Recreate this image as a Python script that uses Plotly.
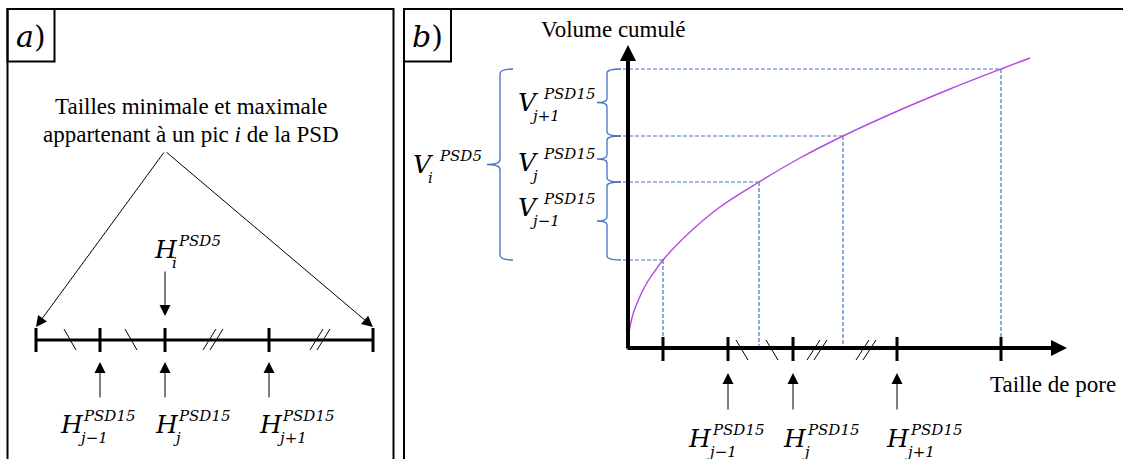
import plotly.graph_objects as go

FIG_W, FIG_H = 1123, 459
BLUE = "#4472C4"
PURPLE = "#B04AE4"
MATH_FONT = "DejaVu Serif"
TEXT_FONT = "Liberation Serif"

# ---------------- frames ----------------
frame_a = [7.5, 9, 393.5, 480]
frame_b = [404, 9, 1140, 480]
tag_a = [7.5, 9, 54.5, 61.5]
tag_b = [404, 9, 451, 61.5]

# ---------------- panel a ----------------
a_axis_x = [36, 373]
a_axis_y = 340
a_tick_x = [36, 100, 165, 269, 373]
a_break_x = [70, 131, 213, 320]
a_break_kind = ["single", "single", "double", "double"]
a_apex = [165, 151]
a_ends_x = [36, 373]
a_ends_y = 327
a_peak_x = 165
a_up_x = [100, 165, 269]
a_sub = ["j−1", "j", "j+1"]
a_H_left = [59, 154, 258]
a_H_y = 424

# ---------------- panel b ----------------
b_origin = [628, 348]
b_y_top = 45
b_x_right = 1067
b_tick_x = [663, 728, 793, 897, 1001]
b_break_x = [742, 772, 817, 866]
b_break_kind = ["single", "single", "double", "double"]
curve_x = [628, 629, 631, 634, 638, 642, 648, 655, 663, 690, 720, 759, 800, 843, 900, 950, 1001, 1030]
curve_y = [348, 333, 322, 311, 301, 292, 281, 271, 260, 232, 207, 182, 158, 136, 110, 89, 69, 58]
level_x = [663, 759, 843, 1001]
level_y = [260, 182, 136, 69]
b_up_x = [728, 793, 897]
b_sub = ["j−1", "j", "j+1"]
b_H_left = [687, 782, 885]
b_H_y = 438
brace_ranges = [[69, 136], [136, 182], [182, 260]]
brace_sub = ["j+1", "j", "j−1"]
brace_label_y = [102, 162, 207]
big_brace = [69, 260]

fig = go.Figure()
shapes = []
ann = []


def seg_trace(xs, ys, color="black", width=1.0, dash=None, shape="linear"):
    fig.add_trace(go.Scatter(x=xs, y=ys, mode="lines", hoverinfo="skip",
                             line=dict(color=color, width=width, dash=dash, shape=shape),
                             showlegend=False))


def arrow(x0, y0, x1, y1, width=1.0, size=2.0, color="black"):
    ann.append(dict(x=x1, y=y1, ax=x0, ay=y0, xref="x", yref="y", axref="x", ayref="y",
                    text="", showarrow=True, arrowhead=2, arrowwidth=width,
                    arrowsize=size, arrowcolor=color))


def text(x, y, s, size, font=TEXT_FONT, xanchor="center", color="black"):
    ann.append(dict(x=x, y=y, xref="x", yref="y", text=s, showarrow=False,
                    xanchor=xanchor, yanchor="middle", borderpad=0,
                    font=dict(family=font, size=size, color=color)))


def math_label(xl, yc, base, sup, sub, sup_dx, sub_dx):
    text(xl, yc, "<i>%s</i>" % base, 25, MATH_FONT, "left")
    text(xl + sup_dx, yc - 8, "<i>%s</i>" % sup, 15, MATH_FONT, "left")
    text(xl + sub_dx, yc + 14, "<i>%s</i>" % sub, 15, MATH_FONT, "left")


def breaks(centers, kinds, ytop, ybot):
    xs, ys = [], []
    for cx, k in zip(centers, kinds):
        if k == "single":
            xs += [cx - 6, cx + 6, None]
            ys += [ytop, ybot, None]
        else:
            for off in (-6, 1):
                xs += [cx + off - 4, cx + off + 9, None]
                ys += [ybot, ytop, None]
    seg_trace(xs, ys, width=1)


def brace(y0, y1, spine, tip, point, r=5):
    m = (y0 + y1) / 2
    return ("M %g,%g Q %g,%g %g,%g L %g,%g Q %g,%g %g,%g Q %g,%g %g,%g L %g,%g Q %g,%g %g,%g"
            % (tip, y0, spine, y0, spine, y0 + r, spine, m - r, spine, m, point, m,
               spine, m, spine, m + r, spine, y1 - r, spine, y1, tip, y1))


# frames
for r in (frame_a, frame_b, tag_a, tag_b):
    shapes.append(dict(type="rect", xref="x", yref="y", x0=r[0], y0=r[1], x1=r[2], y1=r[3],
                       line=dict(color="black", width=2)))
text((tag_a[0] + tag_a[2]) / 2, 36, "<i>a</i>)", 30, MATH_FONT)
text((tag_b[0] + tag_b[2]) / 2, 36, "<i>b</i>)", 30, MATH_FONT)

# ---------------- panel a drawing ----------------
seg_trace(a_axis_x, [a_axis_y, a_axis_y], width=3)
xs, ys = [], []
for tx in a_tick_x:
    xs += [tx, tx, None]
    ys += [a_axis_y - 12, a_axis_y + 12, None]
seg_trace(xs, ys, width=3)
breaks(a_break_x, a_break_kind, a_axis_y - 11, a_axis_y + 10)

text(191, 106, "Tailles minimale et maximale", 23)
text(191, 134, "appartenant à un pic <i>i</i> de la PSD", 23)
for ex in a_ends_x:
    arrow(a_apex[0], a_apex[1], ex, a_ends_y, width=1, size=2.2)
arrow(a_peak_x, 270, a_peak_x, 316, width=1, size=2.2)
math_label(153, 249, "H", "PSD5", "i", 24, 18)
for ux, sub, hl in zip(a_up_x, a_sub, a_H_left):
    arrow(ux, 399, ux, 362, width=1, size=2.2)
    math_label(hl, a_H_y, "H", "PSD15", sub, 23, 18)

# ---------------- panel b drawing ----------------
xs, ys = [], []
for lx, ly in zip(level_x, level_y):
    xs += [623, lx, None, lx, lx, None]
    ys += [ly, ly, None, ly, b_origin[1], None]
seg_trace(xs, ys, color=BLUE, width=1.2, dash="4px,2px")

seg_trace(curve_x, curve_y, color=PURPLE, width=1.4, shape="spline")

arrow(b_origin[0], b_origin[1] + 2, b_origin[0], b_y_top, width=4, size=0.8)
arrow(b_origin[0] - 2, b_origin[1], b_x_right, b_origin[1], width=4, size=0.8)
xs, ys = [], []
for tx in b_tick_x:
    xs += [tx, tx, None]
    ys += [b_origin[1] - 11, b_origin[1] + 13, None]
seg_trace(xs, ys, width=3)
breaks(b_break_x, b_break_kind, b_origin[1] - 8, b_origin[1] + 12)

text(613, 29, "Volume cumulé", 23)
text(1053, 384, "Taille de pore", 23)

for ux, sub, hl in zip(b_up_x, b_sub, b_H_left):
    arrow(ux, 411, ux, 373, width=1, size=2.2)
    math_label(hl, b_H_y, "H", "PSD15", sub, 24, 19)

for (y0, y1), sub, ly in zip(brace_ranges, brace_sub, brace_label_y):
    shapes.append(dict(type="path", xref="x", yref="y",
                       path=brace(y0, y1, 607, 621, 597, 4),
                       line=dict(color=BLUE, width=1.3)))
    math_label(517, ly, "V", "PSD15", sub, 25, 12)
shapes.append(dict(type="path", xref="x", yref="y",
                   path=brace(big_brace[0], big_brace[1], 500, 513, 487, 5),
                   line=dict(color=BLUE, width=1.3)))
math_label(412, 164, "V", "PSD5", "i", 26, 15)

fig.update_layout(
    width=FIG_W, height=FIG_H,
    margin=dict(l=0, r=0, t=0, b=0),
    paper_bgcolor="white", plot_bgcolor="white",
    xaxis=dict(range=[0, FIG_W], visible=False, fixedrange=True),
    yaxis=dict(range=[FIG_H, 0], visible=False, fixedrange=True),
    shapes=shapes, annotations=ann, showlegend=False,
)
fig.write_html("out.html", config={"displayModeBar": False},
               post_script="document.body.style.margin='0';document.body.style.overflow='hidden';")
